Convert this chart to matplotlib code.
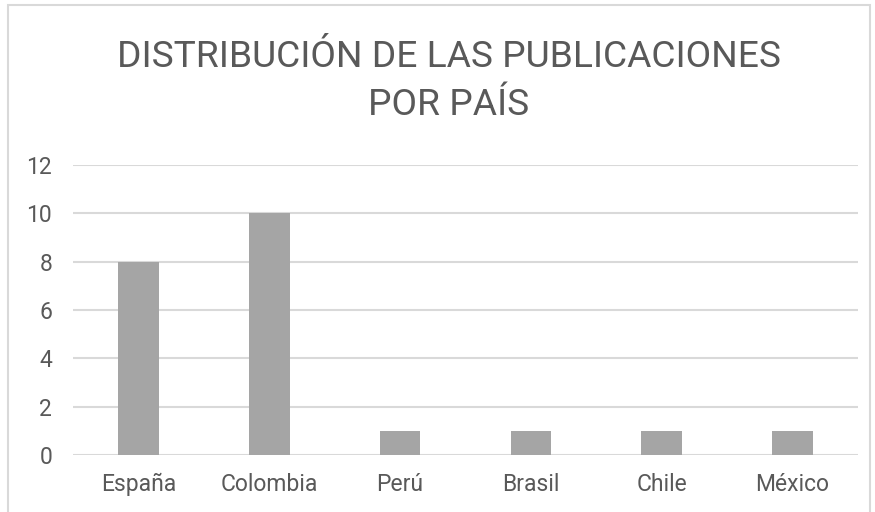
import matplotlib
matplotlib.use("Agg")
import matplotlib.pyplot as plt
from matplotlib.patches import Rectangle

# ─── DATA ────────────────────────────────────────────────
COUNTRIES = ["España", "Colombia", "Perú", "Brasil", "Chile", "México"]
PUBLICATIONS = [8, 10, 1, 1, 1, 1]
Y_TICKS = [0, 2, 4, 6, 8, 10, 12]
TITLE = "DISTRIBUCIÓN DE LAS PUBLICACIONES\nPOR PAÍS"

BAR_COLOR = "#a5a5a5"
GRID_COLOR = "#d9d9d9"
TEXT_COLOR = "#595959"
# ─────────────────────────────────────────────────────────


def main():
    plt.rcParams["font.family"] = ["Roboto", "DejaVu Sans"]

    W, H = 875, 512
    fig = plt.figure(figsize=(W / 100, H / 100), dpi=100)

    # outer chart border
    fig.patches.append(Rectangle((8 / W, -0.05), (870 - 8) / W, 1.05 - 5 / H,
                                 transform=fig.transFigure, fill=False,
                                 edgecolor=GRID_COLOR, linewidth=1.5))

    ax = fig.add_axes([73 / W, 1 - 455 / H, (858 - 73) / W, (455 - 165) / H])
    x = range(len(COUNTRIES))
    ax.bar(x, PUBLICATIONS, width=0.31, color=BAR_COLOR, zorder=3)

    ax.set_xlim(-0.5, len(COUNTRIES) - 0.5)
    ax.set_ylim(0, 12)
    ax.set_yticks(Y_TICKS)
    ax.set_xticks(list(x))
    ax.set_xticklabels(COUNTRIES)
    ax.yaxis.grid(True, color=GRID_COLOR, linewidth=1.5, zorder=0)
    ax.set_axisbelow(True)
    for s in ax.spines.values():
        s.set_visible(False)
    ax.tick_params(axis="both", length=0, labelsize=16.5, labelcolor=TEXT_COLOR)
    ax.tick_params(axis="y", pad=15)
    ax.tick_params(axis="x", pad=13)

    fig.text(449 / W, 1 - 81 / H, TITLE, ha="center", va="center",
             fontsize=26.7, color=TEXT_COLOR, linespacing=1.42,
             multialignment="center")

    fig.savefig("out.png", dpi=100)


if __name__ == "__main__":
    main()
